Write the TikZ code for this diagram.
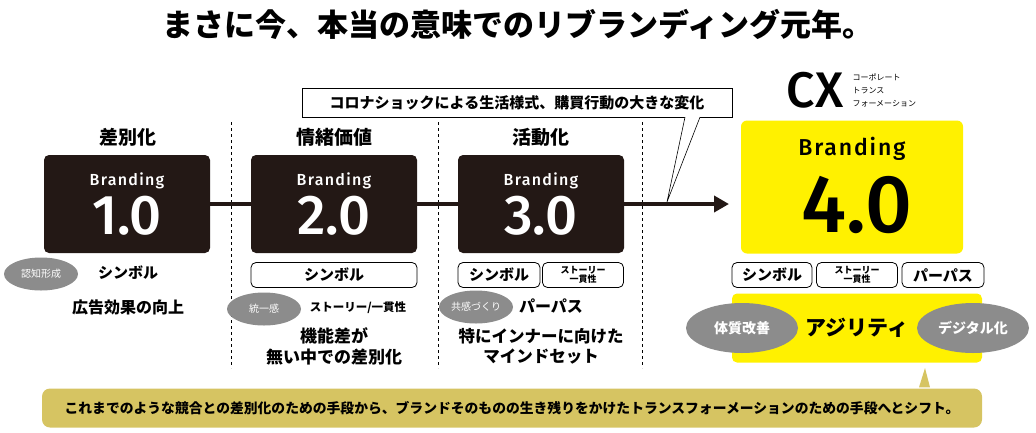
\documentclass[tikz,border=0pt]{standalone}
\usepackage{fontspec}
\setmainfont{Fira Sans}
\newfontfamily\din{Fira Sans Medium}
\newfontfamily\dinspaced{Fira Sans Medium}[LetterSpace=8]
\newfontfamily\jp{Noto Sans CJK JP}
\usetikzlibrary{arrows.meta, positioning, shapes.geometric}

\definecolor{eraink}{HTML}{231815}
\definecolor{cxyellow}{HTML}{FFF100}
\definecolor{pillgrey}{HTML}{8C8C8C}
\definecolor{khaki}{HTML}{D6C462}

\begin{document}
\begin{tikzpicture}[x=1pt, y=-1pt,
    era/.style={fill=eraink, rounded corners=5pt, minimum width=166pt, minimum height=98pt, inner sep=0pt},
    brandword/.style={text=white, font=\dinspaced\fontsize{16}{18}\selectfont},
    version/.style={text=white, font=\din\fontsize{56}{60}\selectfont},
    head/.style={font=\jp\bfseries\fontsize{19}{22}\selectfont},
    note/.style={font=\jp\bfseries\fontsize{16}{20}\selectfont, align=center},
    tag/.style={draw, rounded corners=5pt, line width=0.8pt, fill=white, minimum height=25pt, inner sep=0pt, font=\jp\bfseries\fontsize{15}{16}\selectfont},
    smalltag/.style={tag, font=\jp\bfseries\fontsize{9}{9}\selectfont, align=center},
    pill/.style={ellipse, fill=pillgrey, text=white, minimum width=74pt, minimum height=33pt, inner sep=0pt, font=\jp\fontsize{10}{11}\selectfont},
    bigpill/.style={pill, minimum width=112pt, minimum height=50pt, font=\jp\bfseries\fontsize{14}{15}\selectfont},
    divider/.style={dashed, line width=0.8pt, dash pattern=on 3pt off 3pt},
    flow/.style={line width=4pt, draw=eraink},
    arrowflow/.style={flow, -{Triangle[length=15pt, width=16pt]}}
]
\useasboundingbox (0,0) rectangle (1036,432);

% title
\node[font=\jp\bfseries\fontsize{31}{34}\selectfont] (title) at (518,24) {まさに今、本当の意味でのリブランディング元年。};

% dividers
\draw[divider] (231,122) -- (231,368);
\draw[divider] (438,122) -- (438,368);
\draw[divider] (642,122) -- (642,368);

% eras
\node[head] (h1) at (128,137) {差別化};
\node[head] (h2) at (334,137) {情緒価値};
\node[head] (h3) at (541,137) {活動化};

\node[era] (b1) at (127,204) {};
\node[era] (b2) at (334,204) {};
\node[era] (b3) at (541,204) {};
\node[brandword] (b1w) at (127,181) {Branding};
\node[brandword] (b2w) at (334,181) {Branding};
\node[brandword] (b3w) at (541,181) {Branding};
\node[version] (b1v) at (127,216) {1.0};
\node[version] (b2v) at (334,216) {2.0};
\node[version] (b3v) at (541,216) {3.0};

% CX
\node[font=\din\fontsize{50}{50}\selectfont] (cx) at (815,90) {CX};
\node[anchor=west, align=left, font=\jp\fontsize{8}{13}\selectfont] (cxnote) at (849,90) {コーポレート\\トランス\\フォーメーション};

\node[fill=cxyellow, rounded corners=6pt, minimum width=222pt, minimum height=133pt, inner sep=0pt] (b4) at (852,187) {};
\node[font=\dinspaced\fontsize{23}{26}\selectfont] (b4w) at (852,149) {Branding};
\node[font=\din\fontsize{82}{84}\selectfont] (b4v) at (857,205) {4.0};

% flow
\coordinate (arrowend) at (729,204);
\draw[flow] (b1) -- (b2);
\draw[flow] (b2) -- (b3);
\draw[arrowflow] (b3) -- (arrowend);

% callout
\coordinate (cpt) at (667,202);
\node[draw, line width=0.8pt, fill=white, minimum width=430pt, minimum height=29pt, inner sep=0pt, font=\jp\bfseries\fontsize{15}{16}\selectfont] (corona) at (517,103) {コロナショックによる生活様式、購買行動の大きな変化};
\filldraw[fill=white, line width=0.6pt] ([xshift=168pt, yshift=0.8pt]corona.south) -- (cpt) -- ([xshift=183pt, yshift=0.8pt]corona.south);

% era 1
\node[pill] (p1) at (41,274) {認知形成};
\node[note, font=\jp\bfseries\fontsize{15}{16}\selectfont] (s1) at (128,273) {シンボル};
\node[note] (n1) at (128,307) {広告効果の向上};

% era 2
\node[tag, minimum width=166pt] (s2) at (334,275) {シンボル};
\node[pill] (p2) at (264,309) {統一感};
\node[font=\jp\bfseries\fontsize{11.5}{12}\selectfont] (t2) at (358,308) {ストーリー/一貫性};
\node[note, font=\jp\bfseries\fontsize{17}{21}\selectfont] (n2) at (334,346) {機能差が\\無い中での差別化};

% era 3
\node[tag, minimum width=82pt] (s3) at (499,275) {シンボル};
\node[smalltag, minimum width=81pt] (t3) at (583,275) {ストーリー\\一貫性};
\node[pill] (p3) at (476,307) {共感づくり};
\node[note] (u3) at (551,306) {パーパス};
\node[note, font=\jp\bfseries\fontsize{16.5}{20}\selectfont] (n3) at (541,346) {特にインナーに向けた\\マインドセット};

% era 4
\node[tag, minimum width=80pt] (s4) at (772,275) {シンボル};
\node[smalltag, minimum width=81pt] (t4) at (857,275) {ストーリー\\一貫性};
\node[tag, minimum width=82pt] (u4) at (943,275) {パーパス};
\node[fill=cxyellow, rounded corners=5pt, minimum width=250pt, minimum height=69pt, inner sep=0pt, font=\jp\bfseries\fontsize{21}{22}\selectfont] (ag) at (857,328) {アジリティ};
\node[bigpill] (p4a) at (742,328) {体質改善};
\node[bigpill] (p4b) at (973,328) {デジタル化};

% bottom banner
\coordinate (agtip) at (925,368);
\node[fill=khaki, rounded corners=8pt, minimum width=940pt, minimum height=39pt, inner sep=0pt, font=\jp\bfseries\fontsize{13.8}{15}\selectfont] (shift) at (512,408) {これまでのような競合との差別化のための手段から、ブランドそのものの生き残りをかけたトランスフォーメーションのための手段へとシフト。};
\fill[khaki] ([xshift=407pt, yshift=1pt]shift.north) -- (agtip) -- ([xshift=418pt, yshift=1pt]shift.north);
\end{tikzpicture}
\end{document}
